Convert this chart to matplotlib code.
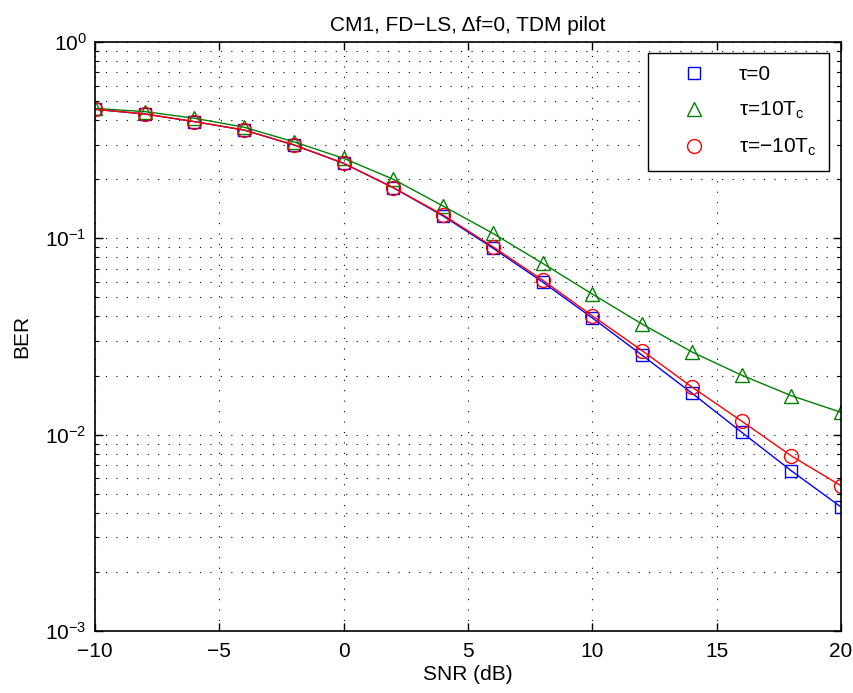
import matplotlib
matplotlib.use("Agg")
import matplotlib.pyplot as plt
from matplotlib.ticker import LogLocator, FixedLocator, NullFormatter

plt.rcParams['font.family'] = ['Liberation Sans', 'DejaVu Sans']
plt.rcParams['mathtext.fontset'] = 'custom'
plt.rcParams['mathtext.rm'] = 'Liberation Sans'
plt.rcParams['mathtext.it'] = 'Liberation Sans'
plt.rcParams['mathtext.default'] = 'regular'
plt.rcParams['axes.unicode_minus'] = True

snr = [-10, -8, -6, -4, -2, 0, 2, 4, 6, 8, 10, 12, 14, 16, 18, 20]
ber_tau0 = [0.454, 0.430, 0.393, 0.356, 0.299, 0.241, 0.181, 0.130, 0.0892,
            0.0599, 0.0393, 0.0254, 0.0163, 0.0103, 0.00655, 0.00428]
ber_tau10 = [0.459, 0.442, 0.409, 0.368, 0.310, 0.2556, 0.1998, 0.146, 0.106,
             0.0746, 0.0520, 0.0366, 0.0264, 0.0201, 0.0158, 0.0130]
ber_taum10 = [0.454, 0.430, 0.393, 0.356, 0.299, 0.241, 0.181, 0.1314, 0.0906,
              0.0613, 0.0403, 0.0268, 0.0175, 0.01173, 0.0078, 0.00549]

labels = ['τ=0', 'τ=10T$_{c}$', 'τ=−10T$_{c}$']
colors = ['#0000ff', '#008000', '#ff0000']
markers = ['s', '^', 'o']
msizes = [8, 10, 10]
xticks = [-10, -5, 0, 5, 10, 15, 20]

fig = plt.figure(figsize=(8.54, 6.93), dpi=100)
ax = fig.add_axes([95/854, (693-631)/693, (841-95)/854, (631-42)/693])

series = [ber_tau0, ber_tau10, ber_taum10]
for ys, c, m, ms, lab in zip(series, colors, markers, msizes, labels):
    ax.plot(snr, ys, '-', color=c, lw=1.0)
    ax.plot(snr, ys, linestyle='none', marker=m, markersize=ms,
            markerfacecolor='none', markeredgecolor=c, markeredgewidth=1.0,
            label=lab)

ax.set_yscale('log')
ax.set_xlim(-10, 20)
ax.set_ylim(1e-3, 1)
ax.xaxis.set_major_locator(FixedLocator(xticks))
ax.yaxis.set_major_locator(LogLocator(base=10, numticks=10))
ax.yaxis.set_minor_locator(LogLocator(base=10, subs=range(2, 10), numticks=10))
ax.yaxis.set_minor_formatter(NullFormatter())

gstyle = dict(color='k', linestyle=(0, (1, 8.4)), lw=0.8)
ax.grid(True, which='major', axis='both', **gstyle)
ax.grid(True, which='minor', axis='y', **gstyle)

ax.tick_params(which='both', direction='in', top=True, right=True, labelsize=15)
ax.tick_params(which='major', length=6, width=1)
ax.tick_params(which='minor', length=3, width=0.8)
ax.tick_params(axis='x', which='major', pad=8)
ax.tick_params(axis='y', which='major', pad=6)
for s in ax.spines.values():
    s.set_linewidth(1.2)

ax.set_xlabel('SNR (dB)', fontsize=15, labelpad=3)
ax.set_ylabel('BER', fontsize=15, labelpad=10)
ax.set_title('CM1, FD−LS, Δf=0, TDM pilot', fontsize=15, pad=8)

leg = ax.legend(loc='upper right', fontsize=15, fancybox=False,
                framealpha=1, edgecolor='k', borderpad=0.6, labelspacing=0.75,
                handletextpad=0.55, handlelength=3.2, borderaxespad=0)
leg.get_frame().set_linewidth(1.0)
leg.set_bbox_to_anchor(((829-95)/(841-95), 1 - (53-42)/589), transform=ax.transAxes)

fig.savefig('out.png', dpi=100)
